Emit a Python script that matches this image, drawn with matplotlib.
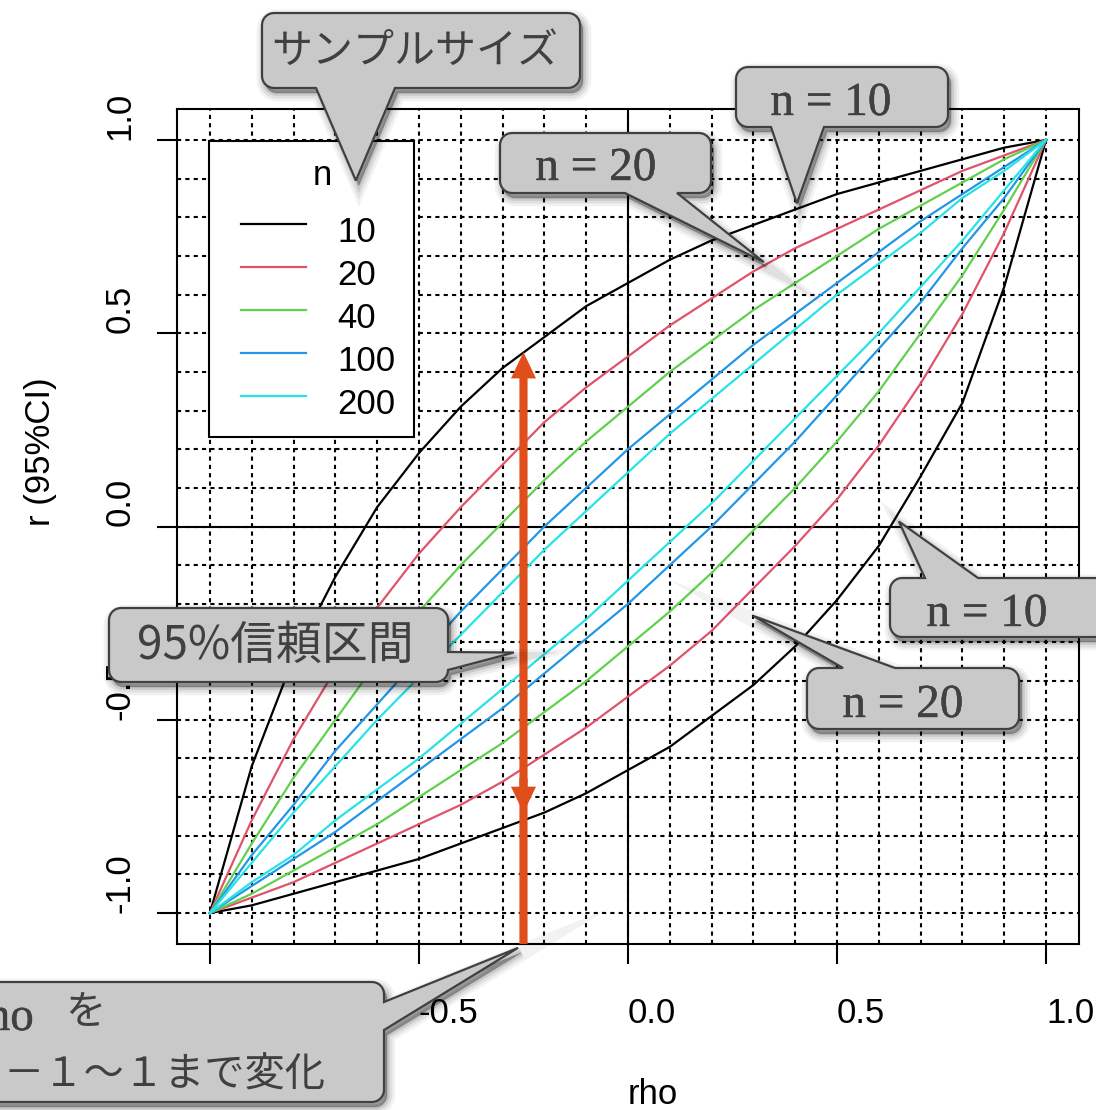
import numpy as np
import matplotlib
matplotlib.use('Agg')
import matplotlib.pyplot as plt
import matplotlib.patheffects as pe
from matplotlib.patches import Polygon, Rectangle
from matplotlib.transforms import Affine2D

plt.rcParams['font.family'] = ['Liberation Sans', 'Noto Sans CJK JP']
plt.rcParams['lines.scale_dashes'] = False

W, H = 1096, 1110

# rho grid and 95% interval bounds of r for each sample size
rho = [-1.0, -0.9, -0.8, -0.7, -0.6, -0.5, -0.4, -0.3, -0.2, -0.1, 0.0,
       0.1, 0.2, 0.3, 0.4, 0.5, 0.6, 0.7, 0.8, 0.9, 1.0]

n_sizes = [10, 20, 40, 100, 200]
colors = ['#000000', '#DF536B', '#61D04F', '#2297E6', '#28E2E5']

upper_10 = [-1.00, -0.62, -0.34, -0.13, 0.05, 0.19, 0.31, 0.41, 0.49, 0.57, 0.63,
            0.69, 0.74, 0.78, 0.82, 0.86, 0.89, 0.92, 0.95, 0.98, 1.00]
lower_10 = [-1.00, -0.98, -0.95, -0.92, -0.89, -0.86, -0.82, -0.78, -0.74, -0.69, -0.63,
            -0.57, -0.49, -0.41, -0.31, -0.19, -0.05, 0.13, 0.32, 0.62, 1.00]
upper_20 = [-1.00, -0.76, -0.55, -0.37, -0.21, -0.07, 0.05, 0.16, 0.27, 0.36, 0.44,
            0.52, 0.59, 0.66, 0.72, 0.77, 0.82, 0.87, 0.92, 0.96, 1.00]
lower_20 = [-1.00, -0.96, -0.92, -0.87, -0.82, -0.77, -0.72, -0.66, -0.59, -0.52, -0.44,
            -0.36, -0.27, -0.16, -0.05, 0.07, 0.21, 0.37, 0.55, 0.76, 1.00]
upper_40 = [-1.00, -0.82, -0.65, -0.50, -0.35, -0.22, -0.10, 0.01, 0.12, 0.22, 0.31,
            0.40, 0.48, 0.56, 0.63, 0.70, 0.77, 0.83, 0.89, 0.95, 1.00]
lower_40 = [-1.00, -0.95, -0.89, -0.83, -0.77, -0.70, -0.63, -0.56, -0.48, -0.40, -0.31,
            -0.22, -0.12, -0.01, 0.10, 0.22, 0.35, 0.50, 0.65, 0.82, 1.00]
upper_100 = [-1.00, -0.85, -0.72, -0.58, -0.46, -0.34, -0.22, -0.11, 0.00, 0.10, 0.20,
             0.29, 0.38, 0.47, 0.55, 0.63, 0.71, 0.79, 0.86, 0.93, 1.00]
lower_100 = [-1.00, -0.93, -0.86, -0.79, -0.71, -0.63, -0.55, -0.47, -0.38, -0.29, -0.20,
             -0.10, 0.00, 0.11, 0.22, 0.34, 0.46, 0.58, 0.72, 0.85, 1.00]
upper_200 = [-1.00, -0.87, -0.74, -0.62, -0.50, -0.39, -0.28, -0.17, -0.06, 0.04, 0.14,
             0.24, 0.33, 0.42, 0.51, 0.60, 0.68, 0.76, 0.85, 0.92, 1.00]
lower_200 = [-1.00, -0.92, -0.85, -0.76, -0.68, -0.60, -0.51, -0.42, -0.33, -0.24, -0.14,
             -0.04, 0.06, 0.17, 0.28, 0.39, 0.50, 0.62, 0.74, 0.87, 1.00]

uppers = [upper_10, upper_20, upper_40, upper_100, upper_200]
lowers = [lower_10, lower_20, lower_40, lower_100, lower_200]

tick_vals = [-1.0, -0.5, 0.0, 0.5, 1.0]
tick_labels = ['-1.0', '-0.5', '0.0', '0.5', '1.0']

arrow_rho = -0.25
arrow_top = 0.451
arrow_bottom = -0.741

ORANGE = '#E04F1B'
TXT = '#404040'
BUBBLE = '#C9C9C9'


def bubble_pts(x0, y0, x1, y1, side, b1, b2, tip, r=12):
    # outline of a rounded box with a pointer, pixel coords (y down)
    pts = []

    def arc(cx, cy, a0, a1):
        for a in np.linspace(a0, a1, 8):
            pts.append((cx + r * np.cos(a), cy + r * np.sin(a)))

    arc(x0 + r, y0 + r, np.pi, 1.5 * np.pi)
    if side == 'top':
        pts.extend([(b1, y0), tip, (b2, y0)])
    arc(x1 - r, y0 + r, 1.5 * np.pi, 2 * np.pi)
    if side == 'right':
        pts.extend([(x1, b1), tip, (x1, b2)])
    arc(x1 - r, y1 - r, 0, 0.5 * np.pi)
    if side == 'bottom':
        pts.extend([(b2, y1), tip, (b1, y1)])
    arc(x0 + r, y1 - r, 0.5 * np.pi, np.pi)
    return np.array(pts)


def main():
    fig = plt.figure(figsize=(W / 100, H / 100), dpi=100)
    ax = fig.add_axes([176.5 / W, (H - 944) / H, 903 / W, 835 / H])
    ax.set_xlim(-1.08, 1.08)
    ax.set_ylim(-1.08, 1.08)
    px = Affine2D().scale(1 / W, -1 / H).translate(0, 1) + fig.transFigure

    def to_px(x, y):
        f = fig.transFigure.inverted().transform(ax.transData.transform((x, y)))
        return (f[0] * W, (1 - f[1]) * H)

    # grid
    ax.set_xticks(tick_vals)
    ax.set_yticks(tick_vals)
    ax.set_xticks(np.arange(-1.0, 1.01, 0.1), minor=True)
    ax.set_yticks(np.arange(-1.0, 1.01, 0.1), minor=True)
    ax.grid(which='both', color='black', lw=1.5, linestyle=(0, (3.0, 3.0)))
    ax.set_axisbelow(True)
    ax.axhline(0, color='black', lw=1.5, zorder=1.5)
    ax.axvline(0, color='black', lw=1.5, zorder=1.5)

    for up, lo, c in zip(uppers, lowers, colors):
        ax.plot(rho, up, color=c, lw=1.6, zorder=2)
        ax.plot(rho, lo, color=c, lw=1.6, zorder=2)

    # axes styling (R-like, labels anchored at their start)
    for s in ax.spines.values():
        s.set_linewidth(1.5)
    ax.tick_params(which='minor', length=0)
    ax.tick_params(which='major', length=14.4, width=1.5, labelsize=25)
    ax.tick_params(axis='x', pad=24)
    ax.tick_params(axis='y', pad=14.5)
    ax.set_xticklabels(tick_labels, ha='left')
    ax.set_yticklabels(tick_labels, rotation=90, ha='right', va='bottom')

    ax.set_xlabel('rho', fontsize=25)
    ax.xaxis.label.set_ha('left')
    ax.xaxis.label.set_va('top')
    ax.xaxis.set_label_coords(0.5, -0.160)
    ax.set_ylabel('r (95%CI)', fontsize=25)
    ax.yaxis.label.set_ha('left')
    ax.yaxis.label.set_va('baseline')
    ax.yaxis.set_label_coords(-0.140, 0.5)

    # legend
    ax.add_patch(Rectangle((209, 141), 205, 296, transform=px, fc='white',
                           ec='black', lw=1.5, zorder=5, clip_on=False))
    ax.text(322, 185, 'n', transform=px, ha='center', va='baseline',
            fontsize=25, zorder=6)
    for i, (n, c) in enumerate(zip(n_sizes, colors)):
        y = 224 + 43 * i
        ax.plot([241, 306], [y, y], color=c, lw=1.6, transform=px,
                zorder=6, clip_on=False)
        ax.text(337, y + 18, str(n), transform=px, ha='left', va='baseline',
                fontsize=25, zorder=6)

    # orange arrow
    ax.arrow(arrow_rho, -1.08, 0, arrow_top + 1.08, width=0.0195,
             head_width=0.06, head_length=0.068, length_includes_head=True,
             color=ORANGE, lw=0, zorder=4)
    ax.arrow(arrow_rho, arrow_bottom + 0.09, 0, -0.09, width=0.0195,
             head_width=0.06, head_length=0.068, length_includes_head=True,
             color=ORANGE, lw=0, zorder=4)

    # callouts: box (x0, y0, x1, y1) px, pointer side, base, tip (data)
    callouts = [
        ((262, 13, 580, 88), 'bottom', 316, 395, (-0.651, 0.895)),
        ((736, 67, 948, 127), 'bottom', 771, 824, (0.404, 0.836)),
        ((500, 133, 711, 193), 'bottom', 625, 677, (0.325, 0.684)),
        ((890, 578, 1115, 637), 'top', 925, 978, (0.648, 0.013)),
        ((807, 668, 1019, 729), 'top', 843, 895, (0.299, -0.231)),
        ((109, 608, 448, 682), 'right', 652, 670, (-0.273, -0.326)),
        ((-40, 982, 384, 1102), 'right', 1002, 1030, (-0.263, -1.09)),
    ]
    for box, side, b1, b2, tip in callouts:
        pts = bubble_pts(*box, side, b1, b2, to_px(*tip))
        for lw, a in [(12, 0.05), (8, 0.07), (4, 0.10), (1, 0.12)]:
            fig.add_artist(Polygon(pts + [3, 5], closed=True, transform=px,
                                   fc=(0, 0, 0, a), ec=(0, 0, 0, a), lw=lw,
                                   zorder=9))
        fig.add_artist(Polygon(pts, closed=True, transform=px, fc=BUBBLE,
                               ec=TXT, lw=1.6, zorder=10))

    ckw = dict(transform=px, color=TXT, zorder=11)
    bold = [pe.withStroke(linewidth=0.3, foreground=TXT)]
    fig.text(415, 51, 'サンプルサイズ', ha='center', va='center',
             fontsize=29.5, family=['Noto Sans CJK JP'], **ckw)
    serif = dict(family=['Liberation Serif'], fontsize=34, path_effects=bold)
    fig.text(831, 115, 'n = 10', ha='center', va='baseline', **serif, **ckw)
    fig.text(596, 180, 'n = 20', ha='center', va='baseline', **serif, **ckw)
    fig.text(987, 626, 'n = 10', ha='center', va='baseline', **serif, **ckw)
    fig.text(903, 717, 'n = 20', ha='center', va='baseline', **serif, **ckw)
    fig.text(275, 646, '95%信頼区間', ha='center', va='center',
             fontsize=33, family=['Noto Sans CJK JP'], **ckw)
    fig.text(34, 1030, 'rho', ha='right', va='baseline', **serif, **ckw)
    fig.text(85, 1013, 'を', ha='center', va='center',
             fontsize=29, family=['Noto Sans CJK JP'], **ckw)
    fig.text(325, 1075, '－１～１まで変化', ha='right', va='center',
             fontsize=29, family=['Noto Sans CJK JP'], **ckw)

    fig.savefig('out.png', dpi=100)


if __name__ == '__main__':
    main()
